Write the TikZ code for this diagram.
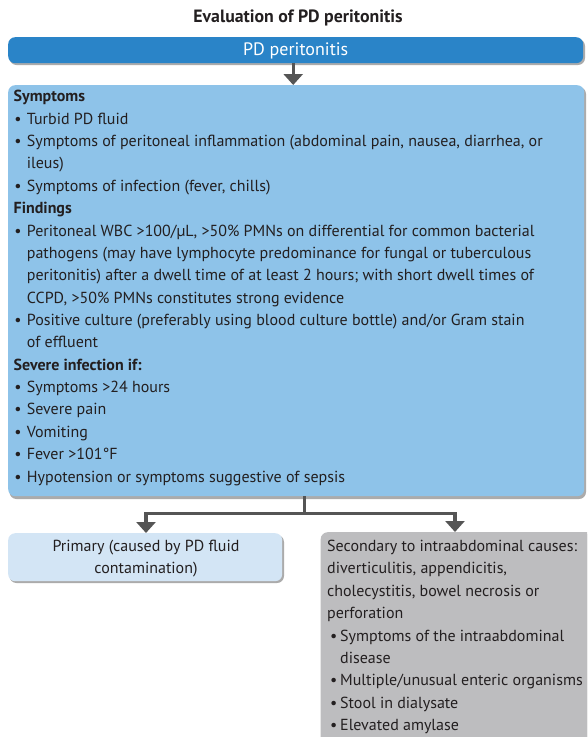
\documentclass[tikz,border=0pt]{standalone}
\usepackage{fontspec}
\setmainfont{PT Sans}
\usetikzlibrary{arrows.meta,calc}
\definecolor{barblue}{HTML}{2A84C8}
\definecolor{mainblue}{HTML}{8EC3E9}
\definecolor{lightblue}{HTML}{D3E5F5}
\definecolor{greybox}{HTML}{BDBDBF}
\definecolor{arrowgrey}{HTML}{555555}
\definecolor{txt}{HTML}{231F20}
\newcommand\hd[1]{\textbf{#1}}
\newcommand\bl[1]{\makebox[13.2pt][l]{\hspace{0.6pt}\textbullet}#1}
\newcommand\ct[1]{\hspace*{13.2pt}#1}
\newcommand\sbl[1]{\makebox[13pt][l]{\hspace{3pt}\textbullet}#1}
\newcommand\sct[1]{\hspace*{13pt}#1}
\tikzset{
  box/.style={rounded corners=7pt, inner sep=0pt, anchor=north west},
  shadowbox/.style={rounded corners=7pt, fill=black!60, opacity=0.55},
  line/.style={font=\fontsize{16}{18}\selectfont, text=txt, inner sep=0pt, anchor=base west},
  arr/.style={draw=arrowgrey, line width=3.4pt, -{Triangle[width=19pt,length=11pt]}},
  conn/.style={draw=arrowgrey, line width=3.4pt},
}
\begin{document}
\begin{tikzpicture}[x=1pt,y=-1pt]
\useasboundingbox (0,0) rectangle (587,737);
\clip (0,0) rectangle (587,737);
% title
\node[font=\bfseries\fontsize{17.8}{20}\selectfont, text=txt, inner sep=0pt] (title) at (298,18) {Evaluation of PD peritonitis};
% shadows
\fill[shadowbox] (9.5,39) rectangle (585,65);
\fill[shadowbox] (9.5,87) rectangle (586,499);
\fill[shadowbox] (9.5,535) rectangle (284,583);
\fill[shadowbox] (322,534) rectangle (600,760);
% boxes
\node[box, fill=barblue, minimum width=575pt, minimum height=26pt] (bar) at (8,37) {};
\node[font=\fontsize{18}{20}\selectfont, text=white, inner sep=0pt] (bartext) at ([yshift=-0.5pt]bar.center) {PD peritonitis};
\node[box, fill=mainblue, minimum width=576pt, minimum height=411pt] (main) at (8,85) {};
\node[box, fill=lightblue, minimum width=274pt, minimum height=48pt] (prim) at (8,533) {};
\node[box, fill=greybox, minimum width=280pt, minimum height=220pt] (sec) at (320.5,532) {};
% arrows
\draw[arr] ([xshift=-2.5pt]bar.south) -- ([xshift=-2.5pt]bar.south |- main.north);
\coordinate (split) at ($(main.south)+(8,17)$);
\draw[conn] ([xshift=8pt]main.south) -- (split);
\draw[arr] (split) -| (prim.north -| 146,0);
\draw[arr] (split) -| (sec.north -| 455,0);
% main text
\foreach \t [count=\i] in {
  {\hd{Symptoms}},
  {\bl{Turbid PD fluid}},
  {\bl{Symptoms of peritoneal inflammation (abdominal pain, nausea, diarrhea, or}},
  {\ct{ileus)}},
  {\bl{Symptoms of infection (fever, chills)}},
  {\hd{Findings}},
  {\bl{Peritoneal WBC >100/µL, >50\% PMNs on differential for common bacterial}},
  {\ct{pathogens (may have lymphocyte predominance for fungal or tuberculous}},
  {\ct{peritonitis) after a dwell time of at least 2 hours; with short dwell times of}},
  {\ct{CCPD, >50\% PMNs constitutes strong evidence}},
  {\bl{Positive culture (preferably using blood culture bottle) and/or Gram stain}},
  {\ct{of effluent}},
  {\hd{Severe infection if:}},
  {\bl{Symptoms >24 hours}},
  {\bl{Severe pain}},
  {\bl{Vomiting}},
  {\bl{Fever >101°F}},
  {\bl{Hypotension or symptoms suggestive of sepsis}}}
  \node[line, name=m\i] at (13.5, {101.8+(\i-1)*22.37}) {\t};
% primary text
\node[line, anchor=base, name=p1] at (146,551) {Primary (caused by PD fluid};
\node[line, anchor=base, name=p2] at (146,573.4) {contamination)};
% secondary text
\foreach \t [count=\i] in {
  {Secondary to intraabdominal causes:},
  {diverticulitis, appendicitis,},
  {cholecystitis, bowel necrosis or},
  {perforation},
  {\sbl{Symptoms of the intraabdominal}},
  {\sct{disease}},
  {\sbl{Multiple/unusual enteric organisms}},
  {\sbl{Stool in dialysate}},
  {\sbl{Elevated amylase}}}
  \node[line, name=s\i] at (327, {551.5+(\i-1)*22.4}) {\t};
\end{tikzpicture}
\end{document}
